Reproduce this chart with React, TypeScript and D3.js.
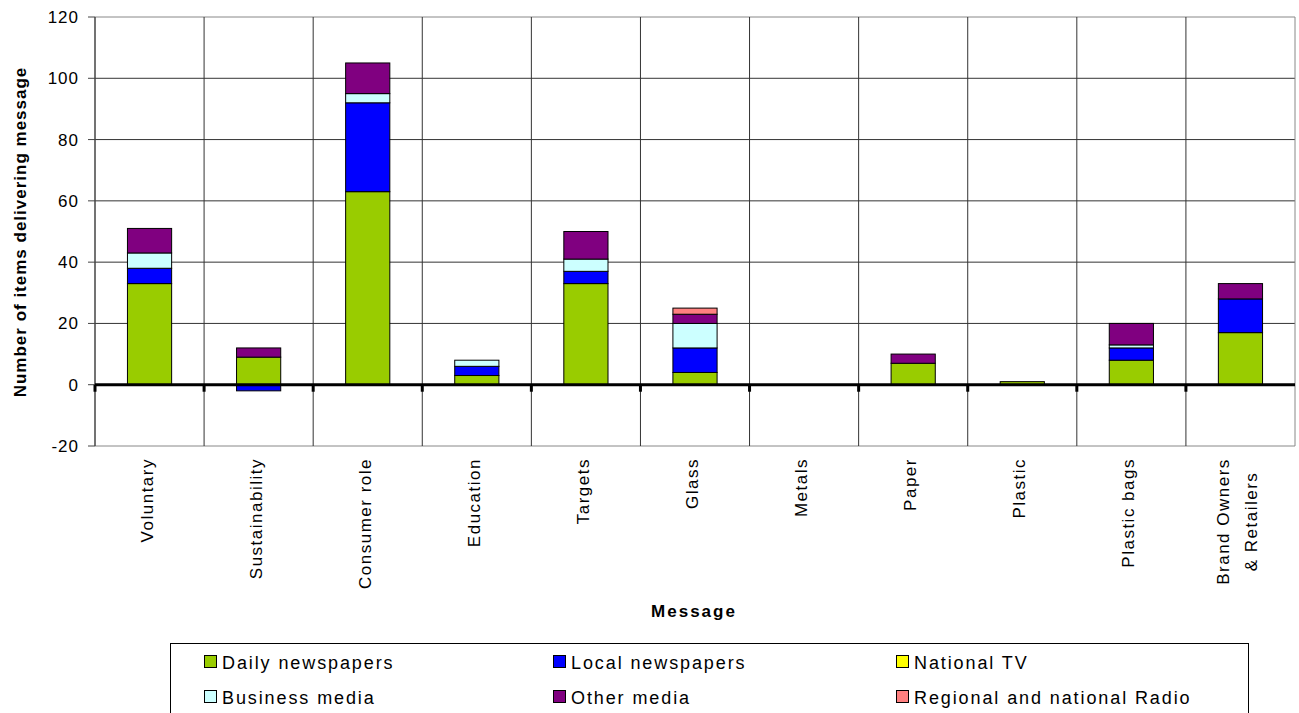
import React from "react";
import * as d3 from "d3";

const categories = [
  "Voluntary",
  "Sustainability",
  "Consumer role",
  "Education",
  "Targets",
  "Glass",
  "Metals",
  "Paper",
  "Plastic",
  "Plastic bags",
  "Brand Owners\n& Retailers",
];

const seriesNames = [
  "Daily newspapers",
  "Local newspapers",
  "National TV",
  "Business media",
  "Other media",
  "Regional and national Radio",
];

const dailyNewspapers = [33, 9, 63, 3, 33, 4, 0, 7, 1, 8, 17];
const localNewspapers = [5, -2, 29, 3, 4, 8, 0, 0, 0, 4, 11];
const nationalTV = [0, 0, 0, 0, 0, 0, 0, 0, 0, 0, 0];
const businessMedia = [5, 0, 3, 2, 4, 8, 0, 0, 0, 1, 0];
const otherMedia = [8, 3, 10, 0, 9, 3, 0, 3, 0, 7, 5];
const regionalRadio = [0, 0, 0, 0, 0, 2, 0, 0, 0, 0, 0];

const seriesColors = ["#99CC00", "#0000FF", "#FFFF00", "#CCFFFF", "#800080", "#FF8080"];
const yTicks = [-20, 0, 20, 40, 60, 80, 100, 120];

const W = 1299;
const H = 713;
const left = 95;
const right = 1295;
const top = 17;
const bottom = 446;
const FONT = "'Liberation Sans', Arial, sans-serif";

export default function App() {
  const seriesValues = [dailyNewspapers, localNewspapers, nationalTV, businessMedia, otherMedia, regionalRadio];
  const rows = categories.map((c, i) => {
    const r: any = { cat: c };
    seriesNames.forEach((s, j) => (r[s] = seriesValues[j][i]));
    return r;
  });
  const stacked = d3.stack().keys(seriesNames).offset(d3.stackOffsetDiverging)(rows);

  const x = d3.scaleBand().domain(categories).range([left, right]).padding(0);
  const y = d3.scaleLinear().domain([-20, 120]).range([bottom, top]);
  const step = x.step();
  const barW = step * 0.405;

  const boundaries = d3.range(categories.length + 1).map((i) => left + i * step);

  const legendCols = [204, 553, 896];
  const legendRows = [662, 697];

  return (
    <svg width={W} height={H} style={{ position: "absolute", left: 0, top: 0, background: "#fff" }}>
      {/* horizontal gridlines */}
      {yTicks.map((t) => (
        <line key={"h" + t} x1={left} x2={right} y1={y(t)} y2={y(t)} stroke={t === 120 || t === -20 ? "#888" : "#333"} strokeWidth={1} />
      ))}
      {/* vertical gridlines */}
      {boundaries.slice(1).map((b, i) => (
        <line key={"v" + i} x1={b} x2={b} y1={top} y2={bottom} stroke={i === categories.length - 1 ? "#888" : "#333"} strokeWidth={1} />
      ))}
      {/* bars */}
      {stacked.map((s, si) => (
        <g key={s.key}>
          {s.map((d, i) => {
            const y0 = y(d[0]);
            const y1 = y(d[1]);
            if (Math.abs(d[1] - d[0]) < 1e-9) return null;
            const cx = (x(categories[i]) as number) + step / 2;
            return (
              <rect
                key={i}
                x={cx - barW / 2}
                y={Math.min(y0, y1)}
                width={barW}
                height={Math.abs(y1 - y0)}
                fill={seriesColors[si]}
                stroke="#000"
                strokeWidth={1}
              />
            );
          })}
        </g>
      ))}
      {/* y axis line and ticks */}
      <line x1={left} x2={left} y1={top} y2={bottom} stroke="#444" strokeWidth={1.5} />
      {yTicks.map((t) => (
        <g key={"t" + t}>
          <line x1={left - 7} x2={left} y1={y(t)} y2={y(t)} stroke="#444" strokeWidth={1} />
          <text x={79} y={y(t) + 6} textAnchor="end" fontFamily={FONT} fontSize={17} letterSpacing={1} fill="#000">
            {t}
          </text>
        </g>
      ))}
      {/* zero line */}
      <line x1={left} x2={right} y1={y(0)} y2={y(0)} stroke="#000" strokeWidth={3} />
      {boundaries.slice(0, -1).map((b, i) => (
        <rect key={"zt" + i} x={b - 1.5} y={y(0)} width={3} height={7} fill="#000" />
      ))}
      {/* category labels */}
      {categories.map((c, i) => {
        const cx = (x(c) as number) + step / 2;
        const lines = c.split("\n");
        if (lines.length === 1) {
          return (
            <text key={c} transform={`translate(${cx + 3},458) rotate(-90)`} textAnchor="end" fontFamily={FONT} fontSize={17} letterSpacing={1.5} fill="#000">
              {c}
            </text>
          );
        }
        return (
          <text key={c} transform={`translate(${cx},521.5) rotate(-90)`} textAnchor="middle" fontFamily={FONT} fontSize={17} letterSpacing={1.5} fill="#000">
            {lines.map((l, k) => (
              <tspan key={k} x={0} dy={k === 0 ? -11 : 28}>
                {l}
              </tspan>
            ))}
          </text>
        );
      })}
      {/* axis titles */}
      <text transform={`translate(26,232) rotate(-90)`} textAnchor="middle" fontFamily={FONT} fontSize={17} fontWeight="bold" letterSpacing={1} fill="#000">
        Number of items delivering message
      </text>
      <text x={694} y={617} textAnchor="middle" fontFamily={FONT} fontSize={17} fontWeight="bold" letterSpacing={2} fill="#000">
        Message
      </text>
      {/* legend */}
      <rect x={170.5} y={643.5} width={1078} height={80} fill="#fff" stroke="#000" strokeWidth={1} />
      {seriesNames.map((s, i) => {
        const col = i % 3;
        const row = Math.floor(i / 3);
        const lx = legendCols[col];
        const ly = legendRows[row];
        return (
          <g key={s}>
            <rect x={lx + 0.5} y={ly - 6.5} width={12} height={12} fill={seriesColors[i]} stroke="#000" strokeWidth={1} />
            <text x={lx + 18} y={ly + 6.5} fontFamily={FONT} fontSize={18} letterSpacing={1.9} fill="#000">
              {s}
            </text>
          </g>
        );
      })}
    </svg>
  );
}
